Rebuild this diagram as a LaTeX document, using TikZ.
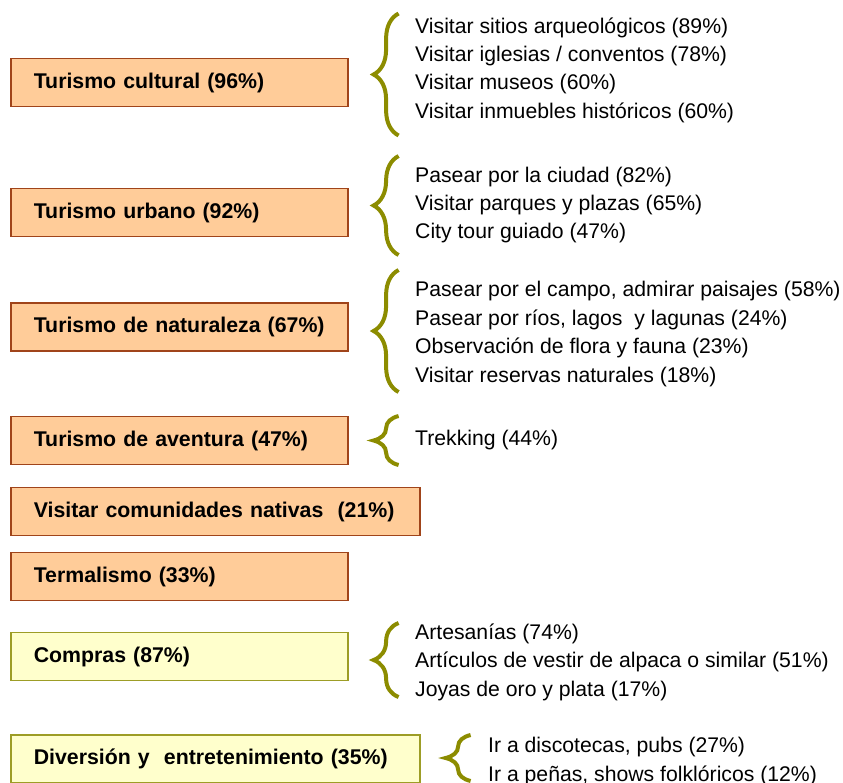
\documentclass[tikz,border=0pt]{standalone}
\usepackage{fontspec}
\setmainfont{Liberation Sans}
\usepackage{xcolor}
\definecolor{peach}{HTML}{FFCC99}
\definecolor{rust}{HTML}{A0441A}
\definecolor{cream}{HTML}{FFFFCC}
\definecolor{olive}{HTML}{8C8C00}
\usetikzlibrary{calc, decorations.pathreplacing}

\begin{document}
\begin{tikzpicture}[
  x=1pt, y=-1pt,
  topic/.style={rectangle, draw=rust, fill=peach, line width=1.6pt, anchor=west,
                minimum width=337pt, minimum height=48pt, text width=291pt,
                inner xsep=23pt, align=left,
                font=\fontsize{21.3}{26}\selectfont\bfseries},
  widetopic/.style={topic, minimum width=409pt, text width=363pt},
  shop/.style={draw=olive!85, fill=cream},
  items/.style={anchor=west, align=left, inner sep=0pt,
                font=\fontsize{21.2}{28.4}\selectfont},
  brc/.style={decorate, decoration={brace, amplitude=25pt}, draw=olive,
              line width=4pt}
]
  \useasboundingbox (0,0) rectangle (843,782);

  % categories
  \node[topic] (cul) at (10,82.5) {Turismo cultural (96\%)};
  \node[topic] (urb) at (10,212.5) {Turismo urbano (92\%)};
  \node[topic] (nat) at (10,327) {\mbox{Turismo de naturaleza (67\%)}};
  \node[topic] (ave) at (10,440.5) {Turismo de aventura (47\%)};
  \node[widetopic] (nav) at (10,511.5) {Visitar comunidades nativas\ \ (21\%)};
  \node[topic] (ter) at (10,576.5) {Termalismo (33\%)};
  \node[topic, shop] (com) at (10,656.5) {Compras (87\%)};
  \node[widetopic, shop] (div) at (10,759) {Diversión y\ \ entretenimiento (35\%)};

  % braces: box / vertical offset / half height
  \foreach \b/\o/\h in {cul/-8/61, urb/-7/49.5, nat/4/61, ave/0/24.5, com/3.5/37, div/-1/23}
    \draw[brc] ($(\b.east)+(50,\o+\h)$) -- ($(\b.east)+(50,\o-\h)$);

  % activities
  \node[items] (lcul) at (415,70)
    {Visitar sitios arqueológicos (89\%)\\
     Visitar iglesias / conventos (78\%)\\
     Visitar museos (60\%)\\
     Visitar inmuebles históricos (60\%)};
  \node[items] (lurb) at (415,205)
    {Pasear por la ciudad (82\%)\\
     Visitar parques y plazas (65\%)\\
     City tour guiado (47\%)};
  \node[items] (lnat) at (415,334)
    {Pasear por el campo, admirar paisajes (58\%)\\
     Pasear por ríos, lagos\ \ y lagunas (24\%)\\
     Observación de flora y fauna (23\%)\\
     Visitar reservas naturales (18\%)};
  \node[items] (lave) at (415,440.5) {Trekking (44\%)};
  \node[items] (lcom) at (415,662)
    {Artesanías (74\%)\\
     Artículos de vestir de alpaca o similar (51\%)\\
     Joyas de oro y plata (17\%)};
  \node[items] (ldiv) at (488,761.5)
    {Ir a discotecas, pubs (27\%)\\
     Ir a peñas, shows folklóricos (12\%)};
\end{tikzpicture}
\end{document}
